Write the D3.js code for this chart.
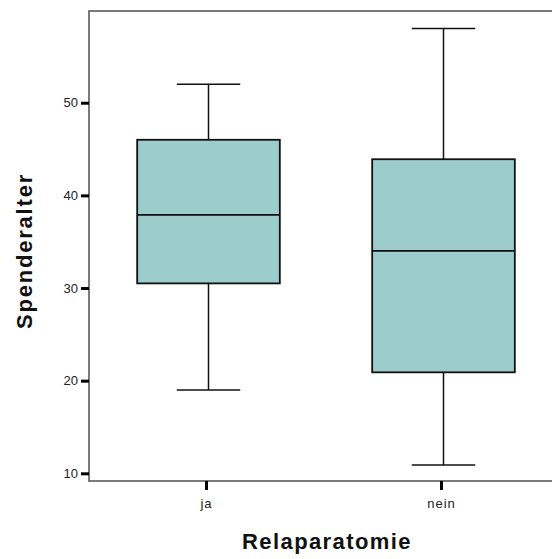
<!DOCTYPE html>
<html>
<head>
<meta charset="utf-8">
<script src="https://cdn.jsdelivr.net/npm/d3@7"></script>
<style>
  html, body { margin: 0; padding: 0; background: #fff; }
  svg { display: block; font-family: Arial, "Liberation Sans", sans-serif; }
</style>
</head>
<body>
<svg id="chart" width="552" height="559"></svg>
<script>
// Five-number summaries of donor age per relaparotomy group
const categories = ["ja", "nein"];
const whiskerLow  = [19, 10.9];
const quartile1   = [30.5, 20.9];
const medians     = [37.9, 34];
const quartile3   = [46, 43.9];
const whiskerHigh = [52, 58];
const yTicks = [10, 20, 30, 40, 50];

const boxes = categories.map((c, i) => ({
  cat: c, lo: whiskerLow[i], q1: quartile1[i], med: medians[i],
  q3: quartile3[i], hi: whiskerHigh[i]
}));

const svg = d3.select("#chart");
const plotLeft = 89, plotTop = 11, plotRight = 559, plotBottom = 481;
const fontStack = "Arial, 'Liberation Sans', sans-serif";

const x = d3.scaleBand().domain(categories).range([plotLeft, plotRight]).paddingInner(0).paddingOuter(0);
const y = d3.scaleLinear().domain([9.17, 59.9]).range([plotBottom, plotTop]);

const boxW = x.bandwidth() * 0.607;
const capW = x.bandwidth() * 0.27;
const shift = 2; // boxes sit slightly right of the tick marks

// Frame
svg.append("rect")
  .attr("x", plotLeft).attr("y", plotTop)
  .attr("width", plotRight - plotLeft).attr("height", plotBottom - plotTop)
  .attr("fill", "none").attr("stroke", "#5a5a5a").attr("stroke-width", 1.6);

// Y axis
const yAxis = d3.axisLeft(y).tickValues(yTicks).tickSize(8).tickPadding(3);
const gy = svg.append("g").attr("transform", `translate(${plotLeft},0)`).call(yAxis);
gy.select(".domain").remove();
gy.selectAll(".tick line").attr("stroke", "#000").attr("stroke-width", 3);
gy.selectAll(".tick text").attr("font-size", 13).attr("fill", "#222")
  .attr("font-family", fontStack);

// X axis
const xAxis = d3.axisBottom(x).tickSize(9).tickPadding(9);
const gx = svg.append("g").attr("transform", `translate(0,${plotBottom})`).call(xAxis);
gx.select(".domain").remove();
gx.selectAll(".tick line").attr("stroke", "#000").attr("stroke-width", 3);
gx.selectAll(".tick text").attr("font-size", 13).attr("fill", "#222")
  .attr("letter-spacing", "1px")
  .attr("font-family", fontStack);

// Box plots
const g = svg.append("g");
boxes.forEach(b => {
  const cx = x(b.cat) + x.bandwidth() / 2 + shift;
  const grp = g.append("g");
  // whiskers
  grp.append("line").attr("x1", cx).attr("x2", cx).attr("y1", y(b.hi)).attr("y2", y(b.q3))
    .attr("stroke", "#111").attr("stroke-width", 1.5);
  grp.append("line").attr("x1", cx).attr("x2", cx).attr("y1", y(b.q1)).attr("y2", y(b.lo))
    .attr("stroke", "#111").attr("stroke-width", 1.5);
  grp.append("line").attr("x1", cx - capW / 2).attr("x2", cx + capW / 2)
    .attr("y1", y(b.hi)).attr("y2", y(b.hi)).attr("stroke", "#111").attr("stroke-width", 1.5);
  grp.append("line").attr("x1", cx - capW / 2).attr("x2", cx + capW / 2)
    .attr("y1", y(b.lo)).attr("y2", y(b.lo)).attr("stroke", "#111").attr("stroke-width", 1.5);
  // box
  grp.append("rect")
    .attr("x", cx - boxW / 2).attr("y", y(b.q3))
    .attr("width", boxW).attr("height", y(b.q1) - y(b.q3))
    .attr("fill", "#9ccccc").attr("stroke", "#111").attr("stroke-width", 1.8);
  // median
  grp.append("line").attr("x1", cx - boxW / 2).attr("x2", cx + boxW / 2)
    .attr("y1", y(b.med)).attr("y2", y(b.med)).attr("stroke", "#111").attr("stroke-width", 1.8);
});

// Axis titles
svg.append("text")
  .attr("x", 327).attr("y", 549)
  .attr("text-anchor", "middle").attr("font-size", 22).attr("font-weight", "bold")
  .attr("letter-spacing", "1.4px")
  .attr("font-family", fontStack)
  .attr("fill", "#111")
  .text("Relaparatomie");

svg.append("text")
  .attr("transform", `translate(32,251) rotate(-90)`)
  .attr("text-anchor", "middle").attr("font-size", 22).attr("font-weight", "bold")
  .attr("letter-spacing", "1.8px")
  .attr("font-family", fontStack)
  .attr("fill", "#111")
  .text("Spenderalter");
</script>
</body>
</html>
